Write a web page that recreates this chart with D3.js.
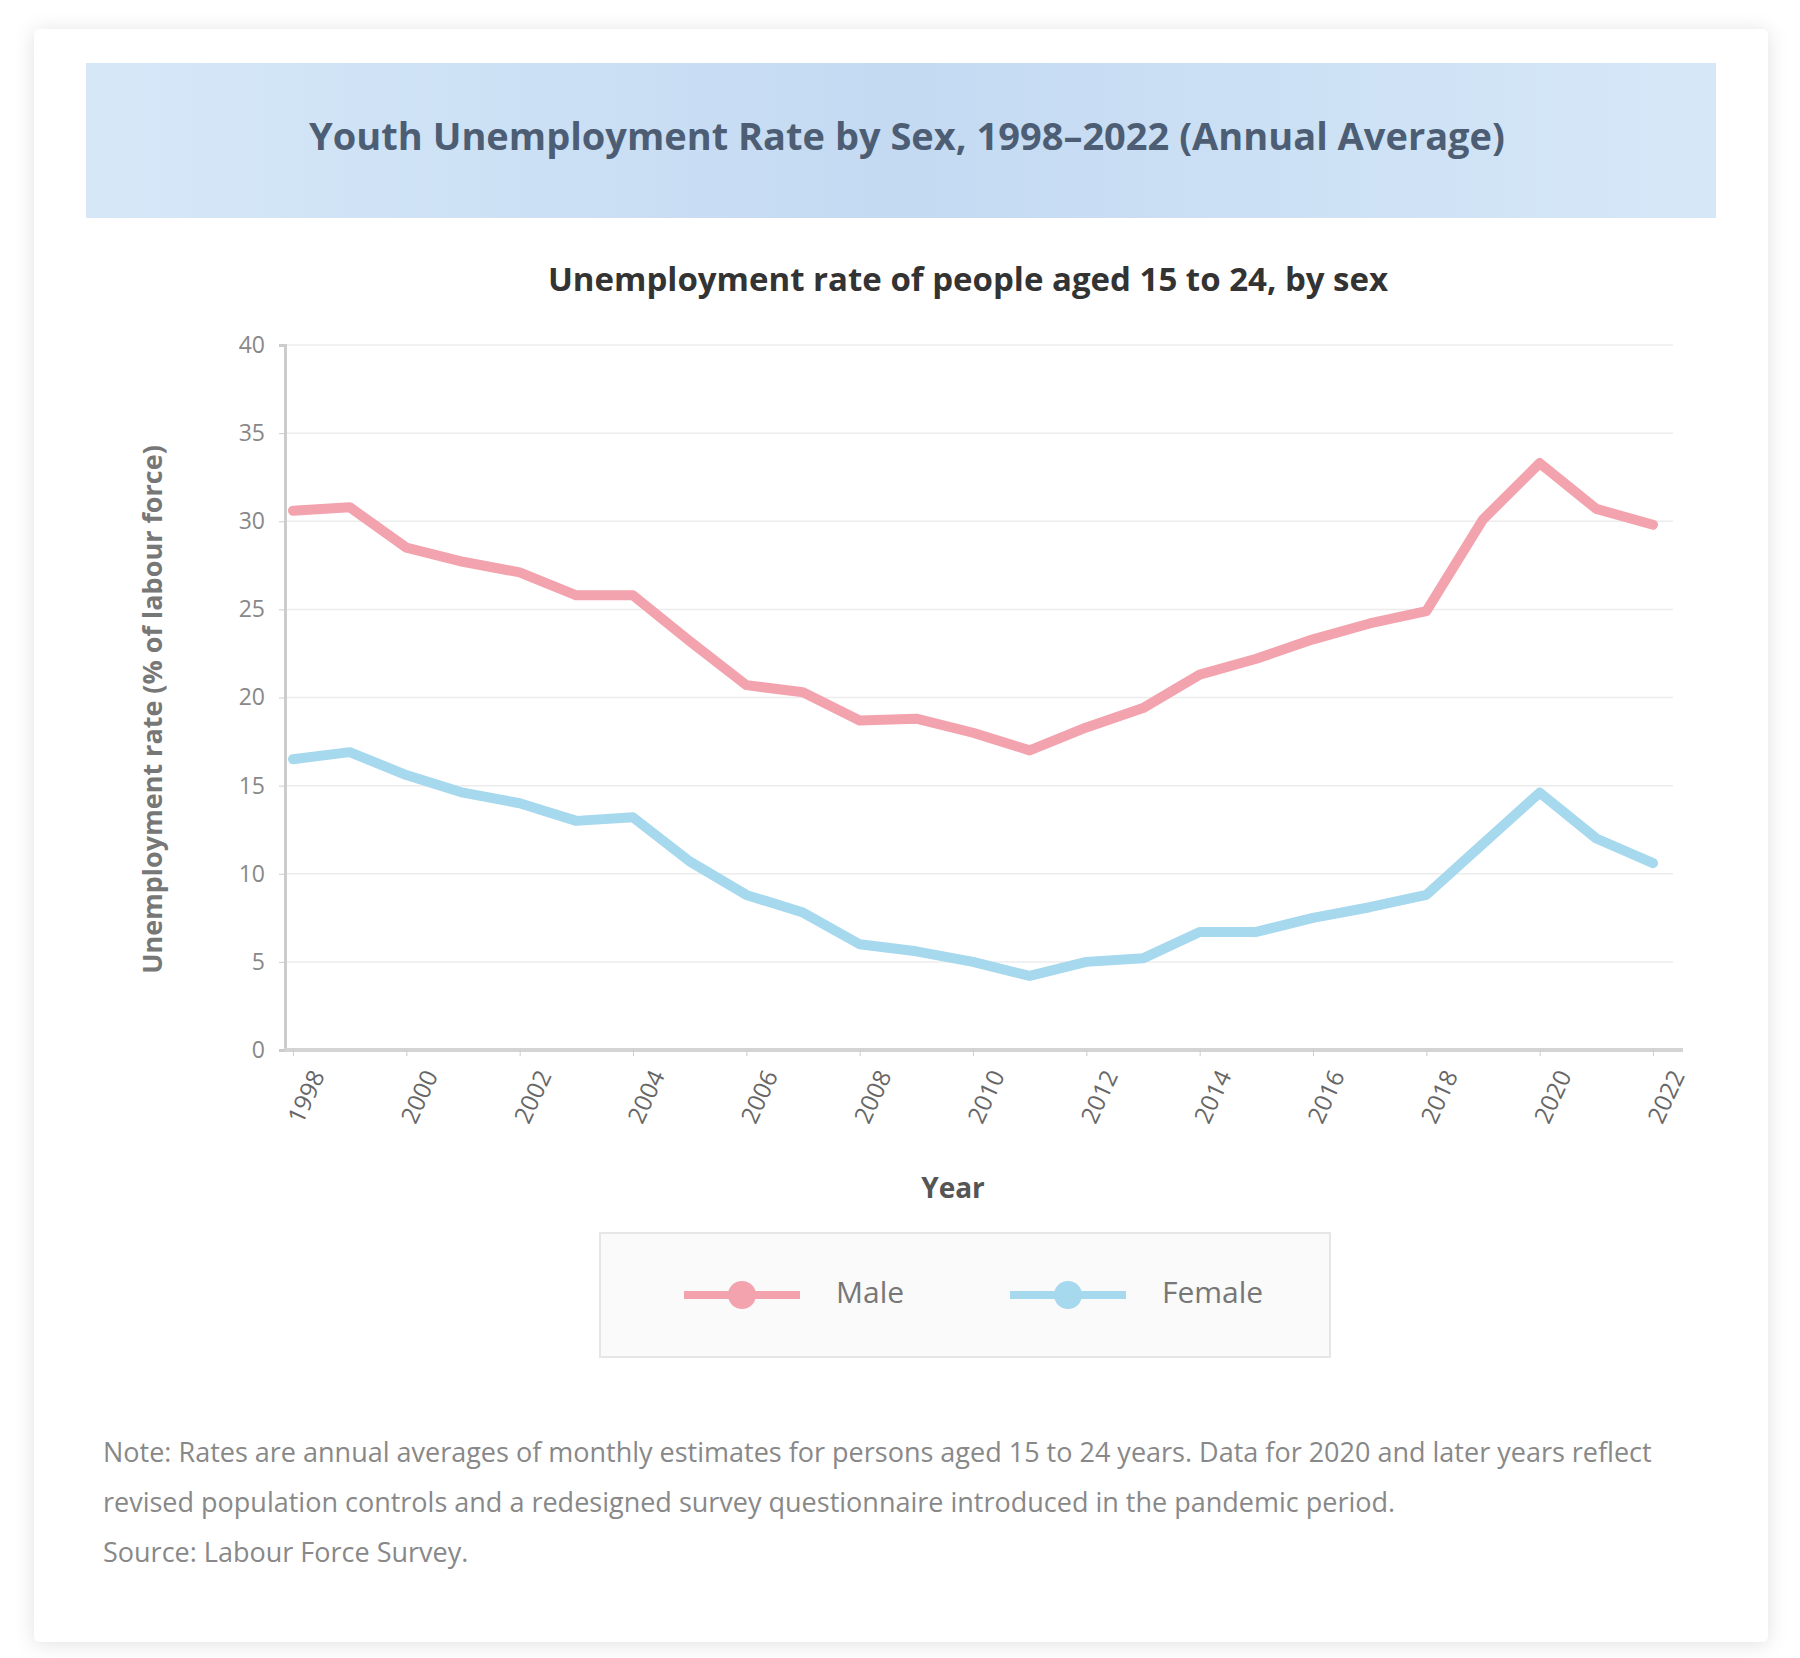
<!DOCTYPE html>
<html>
<head>
<meta charset="utf-8">
<script src="https://cdn.jsdelivr.net/npm/d3@7"></script>
<style>
  body { margin: 0; background: #fff; font-family: "Open Sans", "Noto Sans", sans-serif; }
</style>
</head>
<body>
<div id="chart"></div>
<script>
const years = ['1998','1999','2000','2001','2002','2003','2004','2005','2006','2007','2008','2009','2010',
               '2011','2012','2013','2014','2015','2016','2017','2018','2019','2020','2021','2022'];
const maleRate = [30.6, 30.8, 28.5, 27.7, 27.1, 25.8, 25.8, 23.2, 20.7, 20.3, 18.7, 18.8, 18.0,
                  17.0, 18.3, 19.4, 21.3, 22.2, 23.3, 24.2, 24.9, 30.1, 33.3, 30.7, 29.8];
const femaleRate = [16.5, 16.9, 15.6, 14.6, 14.0, 13.0, 13.2, 10.7, 8.8, 7.8, 6.0, 5.6, 5.0,
                    4.2, 5.0, 5.2, 6.7, 6.7, 7.5, 8.1, 8.8, 11.7, 14.6, 12.0, 10.6];
const yTicks = [0, 5, 10, 15, 20, 25, 30, 35, 40];
const seriesNames = ['Male', 'Female'];
const seriesColors = ['#f3a3ae', '#a6d8ee'];
const notes = [
  'Note: Rates are annual averages of monthly estimates for persons aged 15 to 24 years. Data for 2020 and later years reflect',
  'revised population controls and a redesigned survey questionnaire introduced in the pandemic period.',
  'Source: Labour Force Survey.'
];

const width = 1800, height = 1658;
const plot = { left: 285, right: 1653, top: 345, bottom: 1050 };

const svg = d3.select('#chart')
  .append('svg')
  .attr('width', width)
  .attr('height', height);

const defs = svg.append('defs');
const shadow = defs.append('filter').attr('id', 'shadow')
  .attr('x', '-5%').attr('y', '-5%').attr('width', '110%').attr('height', '110%');
shadow.append('feDropShadow').attr('dx', 0).attr('dy', 2).attr('stdDeviation', 10)
  .attr('flood-color', '#000').attr('flood-opacity', 0.12);

const band = defs.append('linearGradient').attr('id', 'band').attr('x1', 0).attr('x2', 1);
band.append('stop').attr('offset', '0%').attr('stop-color', '#d6e8f8');
band.append('stop').attr('offset', '50%').attr('stop-color', '#c4daf2');
band.append('stop').attr('offset', '100%').attr('stop-color', '#d6e8f8');

// card
svg.append('rect')
  .attr('x', 34).attr('y', 29).attr('width', 1734).attr('height', 1613)
  .attr('rx', 6).attr('fill', '#fff').attr('filter', 'url(#shadow)');

// title band
svg.append('rect')
  .attr('x', 86).attr('y', 63).attr('width', 1630).attr('height', 155)
  .attr('fill', 'url(#band)');

svg.append('text')
  .attr('x', 907).attr('y', 140)
  .attr('text-anchor', 'middle').attr('dominant-baseline', 'middle')
  .attr('font-size', 38).attr('font-weight', 'bold').attr('fill', '#4d5e74')
  .text('Youth Unemployment Rate by Sex, 1998–2022 (Annual Average)');

svg.append('text')
  .attr('x', 968).attr('y', 282)
  .attr('text-anchor', 'middle').attr('dominant-baseline', 'middle')
  .attr('font-size', 33).attr('font-weight', 'bold').attr('fill', '#333')
  .text('Unemployment rate of people aged 15 to 24, by sex');

const x = d3.scalePoint()
  .domain(years)
  .range([293, plot.right]);

const y = d3.scaleLinear()
  .domain([0, 40])
  .range([plot.bottom, plot.top]);

// grid
svg.append('g')
  .selectAll('line')
  .data(yTicks.slice(1))
  .enter()
  .append('line')
  .attr('x1', plot.left).attr('x2', plot.right + 20)
  .attr('y1', d => y(d)).attr('y2', d => y(d))
  .attr('stroke', '#ececec').attr('stroke-width', 1.5);

const yAxis = d3.axisLeft(y).tickValues(yTicks).tickSize(6).tickPadding(14);
const gy = svg.append('g')
  .attr('transform', 'translate(' + plot.left + ',0)')
  .call(yAxis);
gy.select('.domain').attr('stroke', '#ccc').attr('stroke-width', 3);
gy.selectAll('.tick line').attr('stroke', '#ccc');
gy.selectAll('.tick text').attr('font-size', 23).attr('fill', '#888')
  .attr('font-family', '"Open Sans", sans-serif');

const xAxis = d3.axisBottom(x)
  .tickValues(years.filter((d, i) => i % 2 === 0))
  .tickSize(6).tickPadding(12);
const gx = svg.append('g')
  .attr('transform', 'translate(0,' + plot.bottom + ')')
  .call(xAxis);
gx.select('.domain').attr('stroke', '#d4d4d4').attr('stroke-width', 4)
  .attr('d', 'M' + plot.left + ',0H' + (plot.right + 30));
gx.selectAll('.tick line').attr('stroke', '#ccc');
gx.selectAll('.tick text')
  .attr('font-size', 24).attr('fill', '#666')
  .attr('font-family', '"Open Sans", sans-serif')
  .attr('text-anchor', 'end')
  .attr('dx', '-0.4em').attr('dy', '0.9em')
  .attr('transform', 'rotate(-65)');

svg.append('text')
  .attr('transform', 'translate(162,' + ((plot.top + plot.bottom) / 2 + 12) + ') rotate(-90)')
  .attr('text-anchor', 'middle')
  .attr('font-size', 27).attr('font-weight', 'bold').attr('fill', '#777')
  .text('Unemployment rate (% of labour force)');

svg.append('text')
  .attr('x', 953).attr('y', 1198)
  .attr('text-anchor', 'middle')
  .attr('font-size', 28).attr('font-weight', 'bold').attr('fill', '#555')
  .text('Year');

const line = d3.line()
  .x((d, i) => x(years[i]))
  .y(d => y(d));

[maleRate, femaleRate].forEach((s, k) => {
  svg.append('path')
    .datum(s)
    .attr('d', line)
    .attr('fill', 'none')
    .attr('stroke', seriesColors[k])
    .attr('stroke-width', 10)
    .attr('stroke-linejoin', 'round')
    .attr('stroke-linecap', 'round');
});

// legend
const legend = svg.append('g').attr('transform', 'translate(0,1295)');
legend.append('rect')
  .attr('x', 600).attr('y', -62).attr('width', 730).attr('height', 124)
  .attr('fill', '#fafafa').attr('stroke', '#e6e6e6').attr('stroke-width', 2);

const legendX = [684, 1010];
seriesNames.forEach((name, k) => {
  const g = legend.append('g').attr('transform', 'translate(' + legendX[k] + ',0)');
  g.append('line').attr('x1', 0).attr('x2', 116)
    .attr('stroke', seriesColors[k]).attr('stroke-width', 8);
  g.append('circle').attr('cx', 58).attr('r', 14).attr('fill', seriesColors[k]);
  g.append('text').attr('x', 152).attr('dominant-baseline', 'middle')
    .attr('font-size', 30).attr('fill', '#777').text(name);
});

// footnote
svg.append('g')
  .selectAll('text')
  .data(notes)
  .enter()
  .append('text')
  .attr('x', 103)
  .attr('y', (d, i) => 1462 + i * 50)
  .attr('font-size', 27).attr('fill', '#888')
  .text(d => d);
</script>
</body>
</html>
